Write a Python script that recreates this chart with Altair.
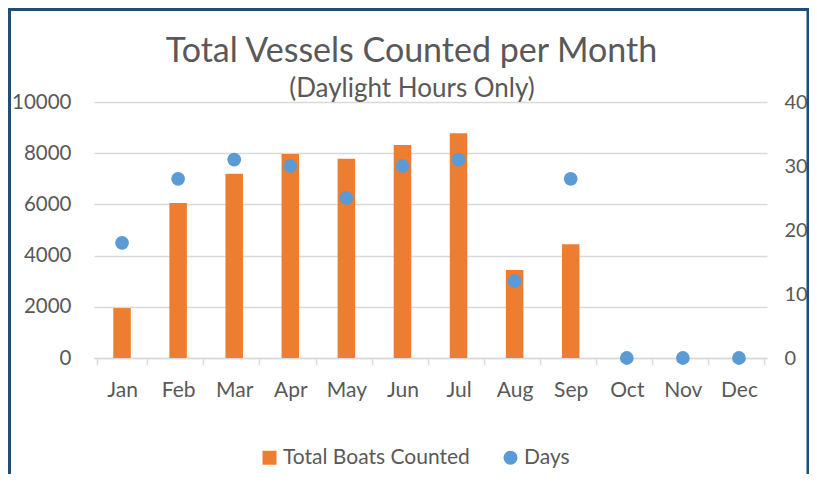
import altair as alt
import pandas as pd

months = ["Jan", "Feb", "Mar", "Apr", "May", "Jun", "Jul", "Aug", "Sep", "Oct", "Nov", "Dec"]
boats = [1950, 6050, 7200, 7970, 7780, 8320, 8780, 3440, 4440, 0, 0, 0]
days = [18, 28, 31, 30, 25, 30, 31, 12, 28, 0, 0, 0]
series_names = ["Total Boats Counted", "Days"]
series_colors = ["#ED7D31", "#5B9BD5"]
left_ticks = [0, 2000, 4000, 6000, 8000, 10000]
right_ticks = [0, 10, 20, 30, 40]
title_text = "Total Vessels Counted per Month"
subtitle_text = "(Daylight Hours Only)"

df_boats = pd.DataFrame({"month": months, "value": boats, "series": series_names[0]})
df_days = pd.DataFrame({"month": months, "value": days, "series": series_names[1]})
one = pd.DataFrame({"a": [0]})

FONT = "Lato"
TXT = "#595959"
GRID = "#D9D9D9"

legend = alt.Legend(
    title=None, orient="none", legendX=165, legendY=345, direction="horizontal",
    symbolSize=196, labelFontSize=21, labelFont=FONT, labelColor=TXT, labelLimit=0,
    columnPadding=30, labelOffset=3, symbolStrokeWidth=0, padding=0,
)
color = alt.Color("series:N", scale=alt.Scale(domain=series_names, range=series_colors), legend=legend)

x_enc = alt.X(
    "month:N", sort=months, title=None,
    axis=alt.Axis(labelAngle=0, tickBand="extent", ticks=True, tickSize=7, tickColor=GRID,
                  tickWidth=1.5, domainColor=GRID, domainWidth=1.5, labelPadding=14,
                  labelFont=FONT, labelFontSize=21, labelColor=TXT, grid=False),
)

bars = alt.Chart(df_boats).mark_bar(size=17.5).encode(
    x=x_enc,
    y=alt.Y("value:Q", title=None, scale=alt.Scale(domain=[0, 10000]),
            axis=alt.Axis(values=left_ticks, format="d", grid=True, gridColor=GRID, gridWidth=1.5,
                          domain=False, ticks=False, tickSize=0, labelPadding=23,
                          labelFont=FONT, labelFontSize=20.5, labelColor=TXT)),
    color=color,
)

points = alt.Chart(df_days).mark_point(filled=True, size=190, opacity=1).encode(
    x=x_enc,
    y=alt.Y("value:Q", title=None, scale=alt.Scale(domain=[0, 40]),
            axis=alt.Axis(orient="right", values=right_ticks, format="d", grid=False,
                          domain=False, ticks=False, tickSize=0, labelPadding=17,
                          labelFont=FONT, labelFontSize=20, labelColor=TXT)),
    color=color,
    shape=alt.Shape("series:N", scale=alt.Scale(domain=series_names, range=["square", "circle"]), legend=legend),
)

title_mark = alt.Chart(one).mark_text(
    text=title_text, font=FONT, fontSize=34, color=TXT, align="center", baseline="alphabetic"
).encode(x=alt.value(317.5), y=alt.value(-40))

subtitle_mark = alt.Chart(one).mark_text(
    text=subtitle_text, font=FONT, fontSize=26, color=TXT, align="center", baseline="alphabetic"
).encode(x=alt.value(318), y=alt.value(-5))

frame = alt.Chart(one).mark_rect(
    fillOpacity=0, stroke="#1F4E79", strokeWidth=3
).encode(x=alt.value(-84.5), x2=alt.value(714), y=alt.value(-92.5), y2=alt.value(400))

chart = alt.layer(bars, points, title_mark, subtitle_mark, frame).resolve_scale(y="independent").properties(
    width=673, height=256,
    background="white",
    autosize=alt.AutoSizeParams(type="none"),
    padding={"left": 86, "top": 94, "right": 42, "bottom": 116},
).configure_view(stroke=None)

chart.save("out.html", embed_options={"renderer": "svg", "actions": False})
